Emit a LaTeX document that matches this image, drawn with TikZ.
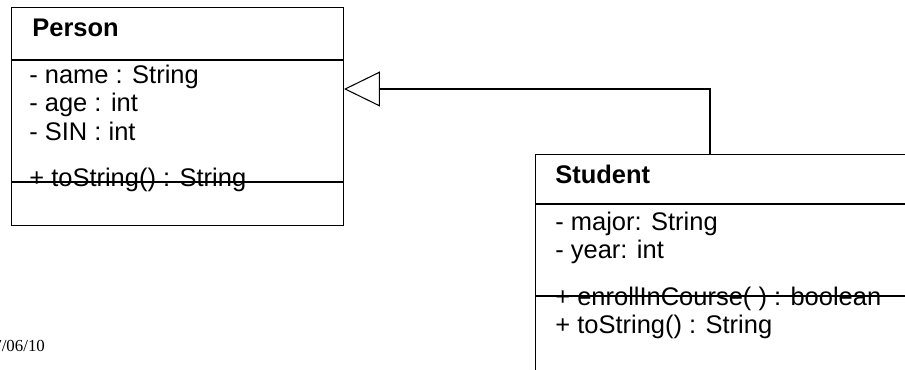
\documentclass[tikz,border=0pt]{standalone}
\usepackage{fontspec}
\setsansfont{Liberation Sans}
\newfontfamily\datefont{Liberation Serif}
\usepackage{tikz}
\usetikzlibrary{arrows.meta, positioning, calc}

\begin{document}
\begin{tikzpicture}[
        x=0.02cm, y=-0.02cm,
        classbox/.style={draw, line width=0.6pt, anchor=north west, inner sep=0pt},
        classname/.style={anchor=base west, inner sep=0pt, font=\sffamily\bfseries\fontsize{14.5}{16}\selectfont},
        member/.style={anchor=base west, inner sep=0pt, font=\sffamily\fontsize{14.5}{16}\selectfont},
        sep/.style={line width=0.6pt},
        inherit/.style={-{Triangle[open, length=7.2mm, width=7mm]}, line width=0.6pt}
    ]
        \useasboundingbox (0,0) rectangle (905,369);
        \clip (0,0) rectangle (905,369);

        % Person class
        \node[classbox, minimum width=6.64cm, minimum height=4.36cm] (person) at (11,7) {};
        \draw[sep] (person.west |- 0,60) -- (person.east |- 0,60);
        \draw[sep] (person.west |- 0,182) -- (person.east |- 0,182);
        \node[classname] (pname) at (32,36) {Person};
        \node[member] (pattr1) at (29,83) {- name : String};
        \node[member] (pattr2) at (29,111) {- age : int};
        \node[member] (pattr3) at (29,140) {- SIN : int};
        \node[member] (pop1) at (29,186) {+ toString() : String};

        % Student class
        \node[classbox, minimum width=8cm, minimum height=5cm] (student) at (535,154) {};
        \draw[sep] (student.west |- 0,204) -- (student.east |- 0,204);
        \draw[sep] (student.west |- 0,296) -- (student.east |- 0,296);
        \node[classname] (sname) at (555,183) {Student};
        \node[member] (sattr1) at (555,230) {- major: String};
        \node[member] (sattr2) at (555,258) {- year: int};
        \node[member] (sop1) at (555,305) {+ enrollInCourse( ) : boolean};
        \node[member] (sop2) at (555,333) {+ toString() : String};

        % generalisation
        \coordinate (bend) at (710,89);
        \draw[inherit] (student.north -| bend) |- (person.east |- bend);

        \node[anchor=base west, inner sep=0pt, font=\datefont\fontsize{9.6}{11}\selectfont] (date) at (-7,351) {7/06/10};
    \end{tikzpicture}
\end{document}
